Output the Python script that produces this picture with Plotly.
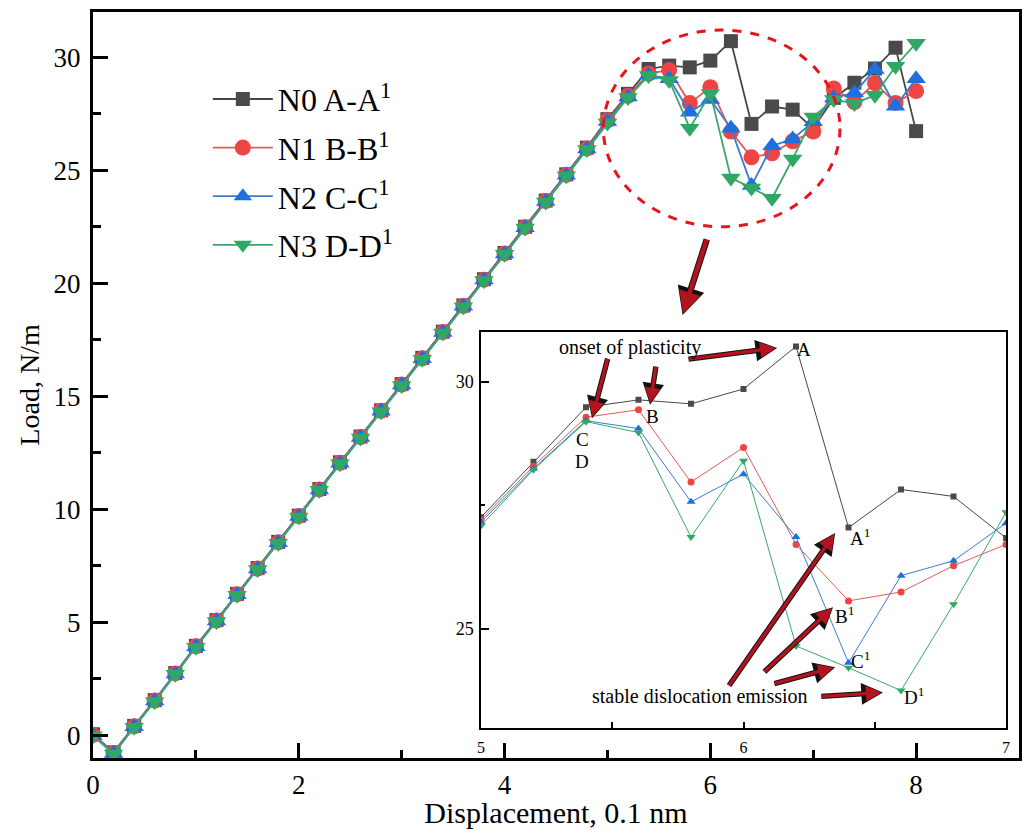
import plotly.graph_objects as go

# ---------------- data ----------------
displacement = [0.0, 0.2, 0.4, 0.6, 0.8, 1.0, 1.2, 1.4, 1.6, 1.8,
                2.0, 2.2, 2.4, 2.6, 2.8, 3.0, 3.2, 3.4, 3.6, 3.8,
                4.0, 4.2, 4.4, 4.6, 4.8, 5.0, 5.2, 5.4, 5.6, 5.8,
                6.0, 6.2, 6.4, 6.6, 6.8, 7.0, 7.2, 7.4, 7.6, 7.8, 8.0]

load_N0 = [0.05, -0.75, 0.42, 1.56, 2.76, 3.96, 5.10, 6.26, 7.40, 8.56,
           9.72, 10.90, 12.08, 13.22, 14.38, 15.54, 16.70, 17.86, 19.02, 20.18,
           21.34, 22.50, 23.66, 24.82, 26.00, 27.26, 28.38, 29.48, 29.63, 29.55,
           29.85, 30.71, 27.05, 27.82, 27.68, 26.84, 28.20, 28.87, 29.50, 30.42, 26.73]

load_N1 = [0.02, -0.78, 0.40, 1.54, 2.74, 3.94, 5.08, 6.24, 7.38, 8.54,
           9.70, 10.88, 12.06, 13.20, 14.36, 15.52, 16.68, 17.84, 19.00, 20.16,
           21.32, 22.48, 23.64, 24.80, 25.96, 27.21, 28.29, 29.28, 29.43, 27.97,
           28.67, 26.71, 25.57, 25.75, 26.28, 26.71, 28.62, 28.02, 28.85, 27.98, 28.50]

load_N2 = [0.00, -0.80, 0.38, 1.52, 2.72, 3.92, 5.06, 6.22, 7.36, 8.52,
           9.68, 10.86, 12.04, 13.18, 14.34, 15.50, 16.66, 17.82, 18.98, 20.14,
           21.30, 22.46, 23.62, 24.78, 25.94, 27.16, 28.24, 29.21, 29.05, 27.57,
           28.13, 26.86, 24.32, 26.08, 26.38, 27.14, 28.20, 28.42, 29.46, 27.83, 29.05]

load_N3 = [-0.02, -0.82, 0.36, 1.50, 2.70, 3.90, 5.04, 6.20, 7.34, 8.50,
           9.66, 10.84, 12.02, 13.16, 14.32, 15.48, 16.64, 17.80, 18.96, 20.12,
           21.28, 22.44, 23.60, 24.76, 25.92, 27.09, 28.22, 29.19, 28.97, 26.86,
           28.40, 24.66, 24.22, 23.76, 25.50, 27.36, 28.13, 27.95, 28.32, 29.60, 30.62]

series_names = ["N0 A-A<sup>1</sup>", "N1 B-B<sup>1</sup>",
                "N2 C-C<sup>1</sup>", "N3 D-D<sup>1</sup>"]

main_x_ticks = [0, 2, 4, 6, 8]
main_y_ticks = [0, 5, 10, 15, 20, 25, 30]
inset_x_ticks = [5, 6, 7]
inset_y_ticks = [25, 30]

# ---------------- styles ----------------
FONT = "Liberation Serif, Times New Roman, serif"
series = [
    (load_N0, "square", "#4a4a4a", "#474747", 14),
    (load_N1, "circle", "#ef4444", "#e35a5a", 16),
    (load_N2, "triangle-up", "#1f6fe0", "#3b7bd2", 17),
    (load_N3, "triangle-down", "#2fa865", "#3aa66c", 17),
]

fig = go.Figure()

for i, (vals, sym, mcol, lcol, msize) in enumerate(series):
    fig.add_trace(go.Scatter(
        x=displacement, y=vals, mode="lines+markers", name=series_names[i],
        legendgroup="g%d" % i,
        line=dict(color=lcol, width=1.8),
        marker=dict(symbol=sym, color=mcol, size=msize, line=dict(width=0)),
        xaxis="x", yaxis="y",
    ))

inset_sizes = [6, 7, 8, 8]
for i, (vals, sym, mcol, lcol, msize) in enumerate(series):
    fig.add_trace(go.Scatter(
        x=displacement, y=vals, mode="lines+markers", showlegend=False,
        line=dict(color=lcol, width=1),
        marker=dict(symbol=sym, color=mcol, size=inset_sizes[i], line=dict(width=0)),
        xaxis="x2", yaxis="y2",
    ))

axis_common = dict(showgrid=False, zeroline=False, showline=True, linecolor="black",
                   mirror=True, ticks="inside", tickcolor="black", automargin=False)

fig.update_layout(
    width=1022, height=829,
    margin=dict(l=93, r=3, t=12, b=71),
    paper_bgcolor="white", plot_bgcolor="white",
    font=dict(family=FONT, color="black"),
    xaxis=dict(**axis_common, range=[0, 9], tickvals=main_x_ticks,
               linewidth=3, ticklen=15, tickwidth=3,
               minor=dict(dtick=1, tick0=0, ticks="inside", ticklen=8, tickwidth=2.5, tickcolor="black"),
               tickfont=dict(size=27, family=FONT), ticklabelstandoff=1,
               title=dict(text="Displacement, 0.1 nm", font=dict(size=30, family=FONT), standoff=3),
               domain=[0, 1]),
    yaxis=dict(**axis_common, range=[-1, 32], tickvals=main_y_ticks,
               linewidth=3, ticklen=15, tickwidth=3,
               minor=dict(dtick=2.5, tick0=0, ticks="inside", ticklen=8, tickwidth=2.5, tickcolor="black"),
               tickfont=dict(size=27, family=FONT), ticklabelstandoff=4,
               title=dict(text="Load, N/m", font=dict(size=28, family=FONT), standoff=6),
               domain=[0, 1]),
    xaxis2=dict(**axis_common, anchor="y2", domain=[0.419, 0.986], range=[5, 7],
                tickvals=inset_x_ticks, linewidth=1.5, ticklen=6, tickwidth=1.5,
                minor=dict(dtick=0.5, tick0=5, ticks="inside", ticklen=6, tickwidth=1.5, tickcolor="black"),
                tickfont=dict(size=16, family=FONT), ticklabelstandoff=4),
    yaxis2=dict(**axis_common, anchor="x2", domain=[0.040, 0.571], range=[23, 31],
                tickvals=inset_y_ticks, linewidth=1.5, ticklen=8, tickwidth=1.5,
                minor=dict(dtick=2.5, tick0=25, ticks="inside", ticklen=4, tickwidth=1.5, tickcolor="black"),
                tickfont=dict(size=18, family=FONT), ticklabelstandoff=2),
    legend=dict(x=0.124, y=0.92, xanchor="left", yanchor="top",
                bgcolor="rgba(0,0,0,0)", font=dict(size=32, family=FONT),
                tracegroupgap=4, itemwidth=60),
    showlegend=True,
)

# dashed red circle around the plastic region
fig.add_shape(type="circle", xref="x", yref="y", x0=4.96, x1=7.26, y0=22.5, y1=31.2,
              line=dict(color="#e8141c", width=3, dash="dash"), layer="above")


def red_arrow(x, y, ax, ay, xr, yr, w=4.0, s=0.8):
    # black outline underneath, dark red arrow on top
    fig.add_annotation(x=x, y=y, ax=ax, ay=ay, xref=xr, yref=yr, axref=xr, ayref=yr,
                       text="", showarrow=True, arrowhead=2, arrowsize=s,
                       arrowwidth=w + 2.0, arrowcolor="#111111", standoff=0)
    fig.add_annotation(x=x, y=y, ax=ax, ay=ay, xref=xr, yref=yr, axref=xr, ayref=yr,
                       text="", showarrow=True, arrowhead=2, arrowsize=s * 1.15,
                       arrowwidth=w, arrowcolor="#b3121f", standoff=1.5)


# arrow from the circle to the inset
red_arrow(5.73, 18.6, 5.97, 22.0, "x", "y", w=4.5, s=0.85)

# inset arrows
red_arrow(5.423, 29.26, 5.484, 30.49, "x2", "y2", w=3.4)
red_arrow(5.644, 29.53, 5.667, 30.33, "x2", "y2", w=3.4)
red_arrow(6.128, 30.68, 5.785, 30.45, "x2", "y2", w=3.4)
red_arrow(6.349, 26.94, 5.941, 23.83, "x2", "y2", w=3.4)
red_arrow(6.341, 25.44, 6.074, 24.11, "x2", "y2", w=3.4)
red_arrow(6.349, 24.23, 6.112, 23.89, "x2", "y2", w=3.4)
red_arrow(6.531, 23.72, 6.291, 23.64, "x2", "y2", w=3.4)

inset_text = [
    ("onset of plasticity", 5.568, 30.68, 20),
    ("stable dislocation emission", 5.834, 23.64, 20),
    ("A", 6.232, 30.64, 19),
    ("B", 5.655, 29.30, 19),
    ("C", 5.385, 28.82, 19),
    ("D", 5.385, 28.38, 19),
    ("A<sup>1</sup>", 6.445, 26.86, 19),
    ("B<sup>1</sup>", 6.385, 25.28, 19),
    ("C<sup>1</sup>", 6.447, 24.37, 19),
    ("D<sup>1</sup>", 6.65, 23.65, 19),
]
for txt, tx, ty, fs in inset_text:
    fig.add_annotation(x=tx, y=ty, xref="x2", yref="y2", text=txt, showarrow=False,
                       font=dict(size=fs, family=FONT, color="black"))

fig.write_html("out.html", config={"displayModeBar": False},
               post_script="document.body.style.margin='0';")
